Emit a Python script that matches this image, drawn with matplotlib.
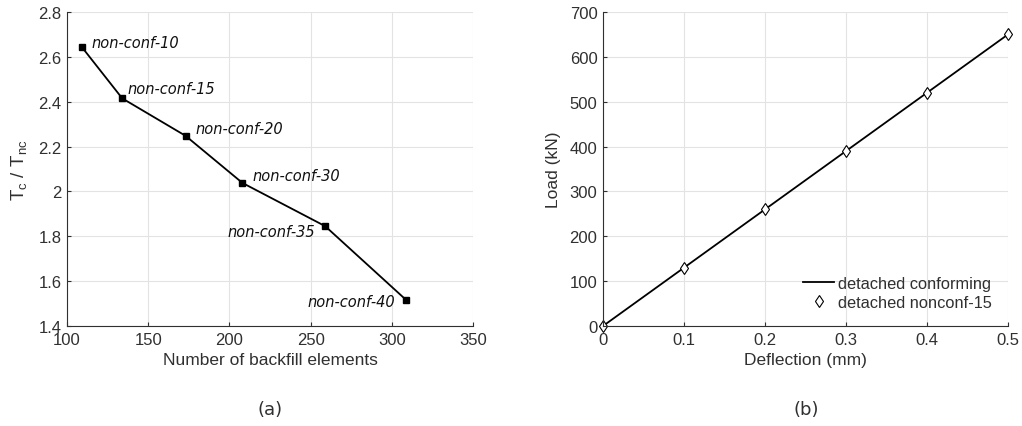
import matplotlib.pyplot as plt

# panel (a)
n_elements = [109, 134, 173, 208, 259, 309]
time_ratio = [2.645, 2.415, 2.248, 2.038, 1.845, 1.515]
case_labels = ["non-conf-10", "non-conf-15", "non-conf-20",
               "non-conf-30", "non-conf-35", "non-conf-40"]

# panel (b)
deflection = [0.0, 0.1, 0.2, 0.3, 0.4, 0.5]
load_conf = [0, 130, 260, 390, 520, 650]
load_nonconf = [0, 130, 260, 390, 520, 650]

TEXT = "#303030"
GRID = "#e3e3e3"
SANS = "Liberation Sans"


def style_axes(ax):
    ax.grid(True, color=GRID, linewidth=0.8)
    ax.set_axisbelow(True)
    for side in ["top", "right"]:
        ax.spines[side].set_visible(False)
    for side in ["left", "bottom"]:
        ax.spines[side].set_color(TEXT)
        ax.spines[side].set_linewidth(0.8)
    ax.tick_params(colors=TEXT, labelsize=12, direction="in", length=3, pad=4)
    for lab in ax.get_xticklabels() + ax.get_yticklabels():
        lab.set_family(SANS)


plt.rcParams["font.family"] = "DejaVu Sans"

fig = plt.figure(figsize=(10.22, 4.27), dpi=100)
ax1 = fig.add_axes([67 / 1022, 1 - 327 / 427, 406 / 1022, 314 / 427])
ax2 = fig.add_axes([603 / 1022, 1 - 327 / 427, 405 / 1022, 314 / 427])

# (a)
ax1.plot(n_elements, time_ratio, color="black", linewidth=1.3,
         marker="s", markersize=4.5, clip_on=False)
offsets = [(7, 3), (4, 7), (7, 5), (7, 5), (-7, -4), (-8, -1)]
aligns = ["left", "left", "left", "left", "right", "right"]
for x, y, lab, off, ha in zip(n_elements, time_ratio, case_labels, offsets, aligns):
    ax1.annotate(lab, (x, y), xytext=off, textcoords="offset points",
                 fontsize=10.5, style="italic", color="#111111",
                 ha=ha, va="center")
ax1.set_xlim(100, 350)
ax1.set_ylim(1.4, 2.8)
ax1.set_xticks(range(100, 351, 50))
ax1.set_yticks([1.4, 1.6, 1.8, 2.0, 2.2, 2.4, 2.6, 2.8])
ax1.set_yticklabels(["1.4", "1.6", "1.8", "2", "2.2", "2.4", "2.6", "2.8"])
ax1.set_xlabel("Number of backfill elements", color=TEXT, fontsize=12.5,
               family=SANS, labelpad=4)
ax1.set_ylabel(r"T$_\mathregular{c}$ / T$_\mathregular{nc}$", color=TEXT,
               fontsize=13.5, family=SANS, labelpad=6)
style_axes(ax1)

# (b)
ax2.plot(deflection, load_conf, color="black", linewidth=1.3,
         label="detached conforming", clip_on=False)
ax2.plot(deflection, load_nonconf, linestyle="none", marker="d",
         markersize=6.5, markerfacecolor="white", markeredgecolor="black",
         markeredgewidth=0.8, label="detached nonconf-15", clip_on=False)
ax2.set_xlim(0, 0.5)
ax2.set_ylim(0, 700)
ax2.set_xticks(deflection)
ax2.set_xticklabels(["0", "0.1", "0.2", "0.3", "0.4", "0.5"])
ax2.set_yticks(range(0, 701, 100))
ax2.set_xlabel("Deflection (mm)", color=TEXT, fontsize=12.5, family=SANS,
               labelpad=4)
ax2.set_ylabel("Load (kN)", color=TEXT, fontsize=12.5, family=SANS,
               labelpad=6)
style_axes(ax2)
leg = ax2.legend(loc="lower right", frameon=False,
                 prop={"family": SANS, "size": 11.8},
                 handlelength=1.9, handletextpad=0.2, borderaxespad=0.6,
                 labelspacing=0.25)
for t in leg.get_texts():
    t.set_color(TEXT)

fig.text(270 / 1022, 1 - 410 / 427, "(a)", ha="center", va="center",
         fontsize=13, color=TEXT)
fig.text(806 / 1022, 1 - 410 / 427, "(b)", ha="center", va="center",
         fontsize=13, color=TEXT)

fig.savefig("out.png", dpi=100)
